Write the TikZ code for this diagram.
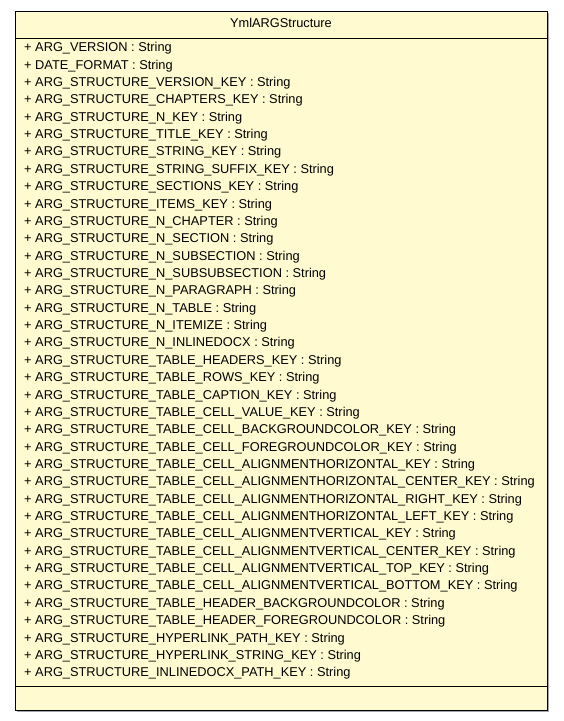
\documentclass[tikz,border=0pt]{standalone}
\usepackage{fontspec}
\setmainfont{Liberation Sans}
\begin{document}
\begin{tikzpicture}[x=1pt,y=-1pt,
  attr/.style={anchor=west,inner sep=0pt,font=\fontsize{12.8}{13}\selectfont},
  umlbox/.style={draw=black,line width=1pt,fill=umlfill}]
\definecolor{umlfill}{RGB}{255,250,207}
\useasboundingbox (0,0) rectangle (563,721);
\fill[gray!70] (17,13) rectangle (549,712);
\draw[umlbox] (15,11) rectangle (547,710);
\coordinate (tl) at (15,38);
\coordinate (tr) at (547,38);
\coordinate (ml) at (15,686);
\coordinate (mr) at (547,686);
\draw[line width=1pt] (tl) -- (tr);
\draw[line width=1pt] (ml) -- (mr);
\node[attr,anchor=center] (title) at (281,23) {YmlARGStructure};
\foreach \t [count=\i from 0] in {
ARG\_VERSION : String,
DATE\_FORMAT : String,
ARG\_STRUCTURE\_VERSION\_KEY : String,
ARG\_STRUCTURE\_CHAPTERS\_KEY : String,
ARG\_STRUCTURE\_N\_KEY : String,
ARG\_STRUCTURE\_TITLE\_KEY : String,
ARG\_STRUCTURE\_STRING\_KEY : String,
ARG\_STRUCTURE\_STRING\_SUFFIX\_KEY : String,
ARG\_STRUCTURE\_SECTIONS\_KEY : String,
ARG\_STRUCTURE\_ITEMS\_KEY : String,
ARG\_STRUCTURE\_N\_CHAPTER : String,
ARG\_STRUCTURE\_N\_SECTION : String,
ARG\_STRUCTURE\_N\_SUBSECTION : String,
ARG\_STRUCTURE\_N\_SUBSUBSECTION : String,
ARG\_STRUCTURE\_N\_PARAGRAPH : String,
ARG\_STRUCTURE\_N\_TABLE : String,
ARG\_STRUCTURE\_N\_ITEMIZE : String,
ARG\_STRUCTURE\_N\_INLINEDOCX : String,
ARG\_STRUCTURE\_TABLE\_HEADERS\_KEY : String,
ARG\_STRUCTURE\_TABLE\_ROWS\_KEY : String,
ARG\_STRUCTURE\_TABLE\_CAPTION\_KEY : String,
ARG\_STRUCTURE\_TABLE\_CELL\_VALUE\_KEY : String,
ARG\_STRUCTURE\_TABLE\_CELL\_BACKGROUNDCOLOR\_KEY : String,
ARG\_STRUCTURE\_TABLE\_CELL\_FOREGROUNDCOLOR\_KEY : String,
ARG\_STRUCTURE\_TABLE\_CELL\_ALIGNMENTHORIZONTAL\_KEY : String,
ARG\_STRUCTURE\_TABLE\_CELL\_ALIGNMENTHORIZONTAL\_CENTER\_KEY : String,
ARG\_STRUCTURE\_TABLE\_CELL\_ALIGNMENTHORIZONTAL\_RIGHT\_KEY : String,
ARG\_STRUCTURE\_TABLE\_CELL\_ALIGNMENTHORIZONTAL\_LEFT\_KEY : String,
ARG\_STRUCTURE\_TABLE\_CELL\_ALIGNMENTVERTICAL\_KEY : String,
ARG\_STRUCTURE\_TABLE\_CELL\_ALIGNMENTVERTICAL\_CENTER\_KEY : String,
ARG\_STRUCTURE\_TABLE\_CELL\_ALIGNMENTVERTICAL\_TOP\_KEY : String,
ARG\_STRUCTURE\_TABLE\_CELL\_ALIGNMENTVERTICAL\_BOTTOM\_KEY : String,
ARG\_STRUCTURE\_TABLE\_HEADER\_BACKGROUNDCOLOR : String,
ARG\_STRUCTURE\_TABLE\_HEADER\_FOREGROUNDCOLOR : String,
ARG\_STRUCTURE\_HYPERLINK\_PATH\_KEY : String,
ARG\_STRUCTURE\_HYPERLINK\_STRING\_KEY : String,
ARG\_STRUCTURE\_INLINEDOCX\_PATH\_KEY : String}
  \node[attr] (a\i) at (24,{48.5+17.36*\i}) {+ \t};
\end{tikzpicture}
\end{document}
